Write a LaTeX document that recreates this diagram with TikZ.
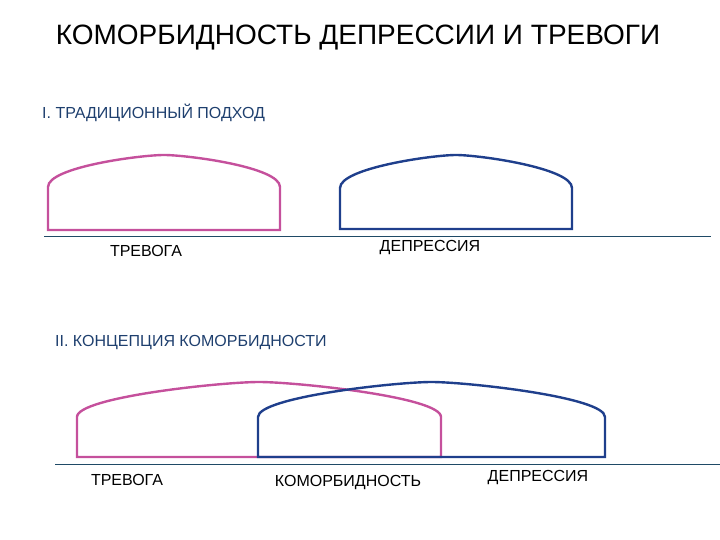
\documentclass[tikz,border=0pt]{standalone}
\usepackage{fontspec}
\setmainfont{Liberation Sans}
\usepackage{xcolor}
\usepackage{tikz}
\usetikzlibrary{calc}
\definecolor{anxpink}{HTML}{C5509C}
\definecolor{depblue}{HTML}{1F3F8C}
\definecolor{headblue}{HTML}{1E3F6E}
\definecolor{baseteal}{HTML}{1F4A66}
% dome: left x, right x, bottom y, side top y, apex y
\newcommand{\dome}[5]{
	($(#1,#3)$) -- (#1,#4) .. controls (#1,#4-20) and ($(#1,#5)!0.4!(#2,#5)$) .. ($(#1,#5)!0.5!(#2,#5)$)
	.. controls ($(#1,#5)!0.6!(#2,#5)$) and (#2,#4-20) .. (#2,#4) -- (#2,#3) -- cycle}

\begin{document}
\begin{tikzpicture}[x=1pt,y=-1pt,
		lab/.style={font=\fontsize{16}{18}\selectfont},
		head/.style={anchor=west,inner sep=0pt,text=headblue,font=\fontsize{16}{18}\selectfont}]
			\useasboundingbox (0,0) rectangle (720,540);
			%title
			\node at (358,38) (title) [font=\fontsize{28}{33}\selectfont] {КОМОРБИДНОСТЬ ДЕПРЕССИИ И ТРЕВОГИ};
			%part I
			\node at (42,113) (head1) [head] {I. ТРАДИЦИОННЫЙ ПОДХОД};
			\draw [anxpink, line width=2.4pt] \dome{48}{280}{230}{187}{155};
			\draw [depblue, line width=2.4pt] \dome{340}{572}{229}{188}{155};
			\draw [baseteal, line width=1pt] (44,236) coordinate (base1w) -- (711,236) coordinate (base1e);
			\node at (146,251) (anx1) [lab] {ТРЕВОГА};
			\node at (430,248) (dep1) [lab] {ДЕПРЕССИЯ};
			%part II
			\node at (55,343) (head2) [head] {II. КОНЦЕПЦИЯ КОМОРБИДНОСТИ};
			\draw [anxpink, line width=2.4pt] \dome{77}{441}{457}{417}{382};
			\draw [depblue, line width=2.4pt] \dome{258}{605}{457}{417}{382};
			\draw [baseteal, line width=1pt] (55,464) coordinate (base2w) -- (720,464) coordinate (base2e);
			\node at (127,480) (anx2) [lab] {ТРЕВОГА};
			\node at (348,483) (comorb) [lab] {КОМОРБИДНОСТЬ};
			\node at (538,478) (dep2) [lab] {ДЕПРЕССИЯ};
		\end{tikzpicture}
\end{document}
